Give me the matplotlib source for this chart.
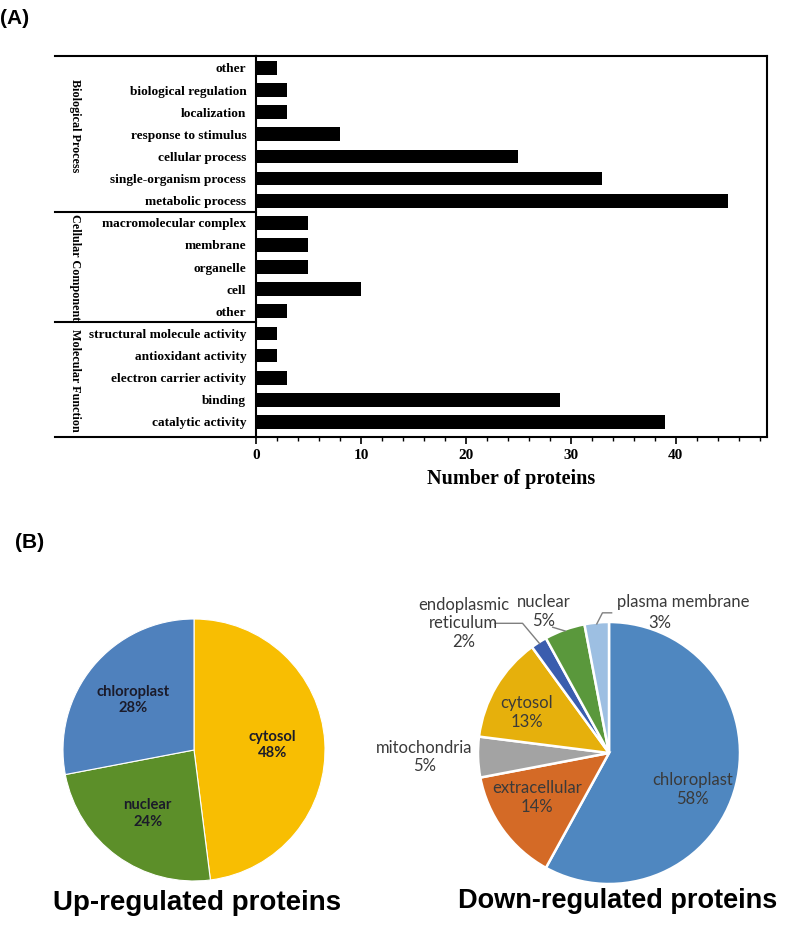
import numpy as np
import matplotlib as mpl
mpl.use('Agg')
import matplotlib.pyplot as plt
from matplotlib.ticker import MultipleLocator

# GO categories, listed top to bottom
bp_terms = ['other', 'biological regulation', 'localization', 'response to stimulus',
            'cellular process', 'single-organism process', 'metabolic process']
bp_counts = [2, 3, 3, 8, 25, 33, 45]
cc_terms = ['macromolecular complex', 'membrane', 'organelle', 'cell', 'other']
cc_counts = [5, 5, 5, 10, 3]
mf_terms = ['structural molecule activity', 'antioxidant activity',
            'electron carrier activity', 'binding', 'catalytic activity']
mf_counts = [2, 2, 3, 29, 39]
groups = ['Biological Process', 'Cellular Component', 'Molecular Function']

# subcellular localisation
up_labels = ['cytosol', 'nuclear', 'chloroplast']
up_pct = [48, 24, 28]
up_colors = ['#F8BE02', '#5C8F29', '#4F81BD']

down_labels = ['chloroplast', 'extracellular', 'mitochondria', 'cytosol',
               'endoplasmic\nreticulum', 'nuclear', 'plasma membrane']
down_pct = [58, 14, 5, 13, 2, 5, 3]
down_colors = ['#4F87C0', '#D46A26', '#A3A3A3', '#E6B00C', '#3A5DAE', '#5A983C', '#9DBFE2']

W, H = 786, 936
SERIF = 'Liberation Serif'


def fig_box(x0, y0, x1, y1):
    # pixel box (top-left origin) -> figure fraction rect
    return [x0 / W, 1 - y1 / H, (x1 - x0) / W, (y1 - y0) / H]


def plotBars(fig):
    ax = fig.add_axes(fig_box(256, 56, 767, 437))
    terms = bp_terms + cc_terms + mf_terms
    counts = bp_counts + cc_counts + mf_counts
    ypos = np.arange(len(terms))[::-1]
    ax.barh(ypos, counts, height=0.62, color='black')

    ax.set_xlim(0, 48.7)
    ax.set_ylim(-0.68, 16.54)
    ax.set_yticks(ypos)
    ax.set_yticklabels(terms, fontfamily=SERIF, fontweight='bold', fontsize=9.6)
    ax.tick_params(axis='y', length=0, pad=7)
    ax.xaxis.set_major_locator(MultipleLocator(10))
    ax.xaxis.set_minor_locator(MultipleLocator(2))
    ax.tick_params(axis='x', which='major', length=5, width=1.2, direction='out')
    ax.tick_params(axis='x', which='minor', length=3, width=1.0, direction='out')
    for lab in ax.get_xticklabels():
        lab.set_fontfamily(SERIF)
        lab.set_fontweight('bold')
        lab.set_fontsize(11)
    for sp in ax.spines.values():
        sp.set_linewidth(1.5)

    ax.set_xlabel('Number of proteins', fontfamily=SERIF, fontweight='bold',
                  fontsize=14.5, labelpad=5)

    # group separators and labels on the left
    trans = ax.get_yaxis_transform()
    for yv in [16.54, 9.5, 4.5, -0.68]:
        ax.plot([-0.393, 0], [yv, yv], transform=trans, color='black',
                lw=1.5, clip_on=False)
    for name, yc in zip(groups, [13.4, 7.0, 1.9]):
        ax.text(-0.354, yc, name, transform=trans, rotation=-90,
                ha='center', va='center', fontfamily=SERIF, fontweight='bold',
                fontsize=8.7)


def plotUp(fig):
    cx, cy, r = 194, 750, 131
    ax = fig.add_axes(fig_box(cx - 1.25 * r, cy - 1.25 * r, cx + 1.25 * r, cy + 1.25 * r))
    wedges, _ = ax.pie(up_pct, colors=up_colors, startangle=90, counterclock=False,
                       wedgeprops=dict(edgecolor='white', linewidth=0.8))
    for w, lab, p in zip(wedges, up_labels, up_pct):
        ang = np.deg2rad((w.theta1 + w.theta2) / 2)
        ax.text(0.6 * np.cos(ang), 0.6 * np.sin(ang), '%s\n%d%%' % (lab, p),
                ha='center', va='center', fontfamily='Lato', fontweight='bold',
                fontsize=10.6, color='#1B1B2A', linespacing=1.2)
    ax.set_xlim(-1.25, 1.25)
    ax.set_ylim(-1.25, 1.25)


def plotDown(fig):
    cx, cy, r = 609, 753, 131
    ax = fig.add_axes(fig_box(cx - 1.25 * r, cy - 1.25 * r, cx + 1.25 * r, cy + 1.25 * r))
    wedges, _ = ax.pie(down_pct, colors=down_colors, startangle=90, counterclock=False,
                       wedgeprops=dict(edgecolor='white', linewidth=1.8))
    ax.set_xlim(-1.25, 1.25)
    ax.set_ylim(-1.25, 1.25)

    kw = dict(ha='center', va='center', fontfamily='Lato', fontsize=12,
              color='#3A3A3A', linespacing=1.2)
    label_pos = [(0.64, -0.28), (-0.55, -0.34), (-1.41, -0.03), (-0.63, 0.31),
                 (-1.11, 0.99), (-0.50, 1.08), (0.57, 1.15)]
    for lab, p, (tx, ty) in zip(down_labels, down_pct, label_pos):
        if lab == 'plasma membrane':
            ax.text(tx, ty, lab, **kw)
            ax.text(0.39, 0.99, '%d%%' % p, **kw)
        else:
            ax.text(tx, ty, '%s\n%d%%' % (lab, p), **kw)

    # leader lines for the thin slices
    def edge(i, rr=0.99):
        ang = np.deg2rad((wedges[i].theta1 + wedges[i].theta2) / 2)
        return rr * np.cos(ang), rr * np.sin(ang)

    leaders = {4: [(-0.87, 0.99), (-0.66, 0.99)],
               5: [(-0.43, 0.96)],
               6: [(0.02, 1.07), (-0.05, 1.07)]}
    for i, pts in leaders.items():
        pts = pts + [edge(i)]
        xs, ys = zip(*pts)
        ax.plot(xs, ys, color='#7F7F7F', lw=1.0, clip_on=False)


def main():
    fig = plt.figure(figsize=(W / 100, H / 100), dpi=100)
    plotBars(fig)
    plotUp(fig)
    plotDown(fig)

    fig.text(0.0, 1 - 18 / H, '(A)', fontfamily='Liberation Sans', fontweight='bold',
             fontsize=15, ha='left', va='center')
    fig.text(15 / W, 1 - 542 / H, '(B)', fontfamily='Liberation Sans', fontweight='bold',
             fontsize=15, ha='left', va='center')
    title_font = ['Liberation Sans Narrow', 'Liberation Sans']
    fig.text(197 / W, 1 - 903 / H, 'Up-regulated proteins', family=title_font,
             fontweight='bold', fontsize=20, ha='center', va='center')
    fig.text(618 / W, 1 - 901 / H, 'Down-regulated proteins', family=title_font,
             fontweight='bold', fontsize=19.5, ha='center', va='center')

    fig.savefig('out.png', dpi=100)


if __name__ == "__main__":
    main()
